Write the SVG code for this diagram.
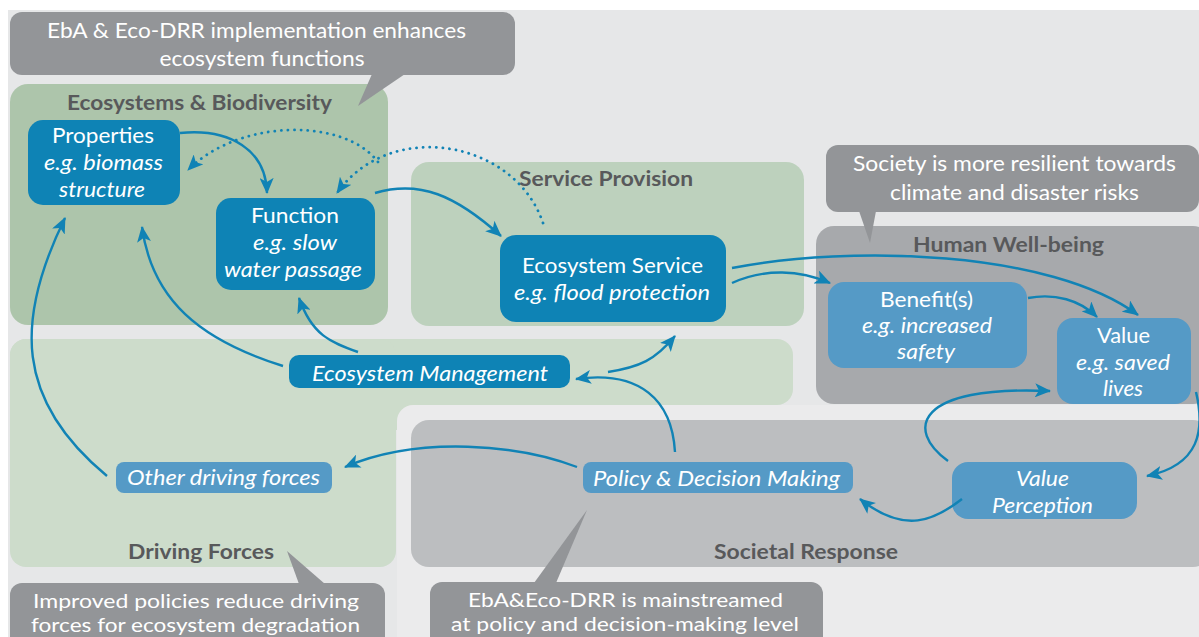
<svg xmlns="http://www.w3.org/2000/svg" width="1199" height="637" viewBox="0 0 1199 637">
<style>
text{font-family:Lato,"Open Sans","Liberation Sans",sans-serif}
.title{font-size:21px;font-weight:bold;fill:#58595b;text-anchor:middle}
.call{font-size:22px;fill:#fff;text-anchor:middle}
.callb{font-size:19.5px;fill:#fff;text-anchor:middle}
.nt{font-size:21.5px;fill:#fff;text-anchor:middle}
.it{font-style:italic}
.conn{fill:none;stroke:#1183b5;stroke-width:2.4}
.dot{fill:none;stroke:#1183b5;stroke-width:2.8;stroke-dasharray:0.1 6.5;stroke-linecap:round}
.dark{fill:#0e83b5}
.light{fill:#559ac6}
.callbox{fill:#939598}
</style>
<defs>
<marker id="ah" markerUnits="userSpaceOnUse" markerWidth="16" markerHeight="14" viewBox="0 0 16 14" refX="15" refY="7" orient="auto">
<path d="M0,0 L16,7 L0,14 L4,7 Z" fill="#1183b5"/>
</marker>
</defs>
<rect x="0" y="0" width="1199" height="637" fill="#ffffff"/>
<rect x="8" y="10" width="1191" height="627" fill="#e6e7e8"/>

<g id="areas">
<rect x="10" y="84" width="378" height="241" rx="18" fill="#adc5ab"/>
<rect x="411" y="162" width="393" height="164" rx="18" fill="#bdd1bd"/>
<rect x="816" y="226" width="395" height="178" rx="18" fill="#a7a9ac"/>
<rect x="10" y="339" width="783" height="66" rx="16" fill="#cddccb"/>
<rect x="10" y="339" width="386" height="228" rx="16" fill="#cddccb"/>
<rect x="370" y="380" width="50" height="50" fill="#cddccb"/>
<rect x="397" y="405" width="820" height="250" rx="16" fill="#ebebec"/>
<rect x="411" y="420" width="800" height="147" rx="18" fill="#bcbec0"/>
<text class="title" x="199.5" y="110" textLength="265" lengthAdjust="spacingAndGlyphs">Ecosystems &amp; Biodiversity</text>
<text class="title" x="606" y="186" textLength="174" lengthAdjust="spacingAndGlyphs">Service Provision</text>
<text class="title" x="1008.5" y="252" textLength="191" lengthAdjust="spacingAndGlyphs">Human Well-being</text>
<text class="title" x="201" y="559" textLength="146" lengthAdjust="spacingAndGlyphs">Driving Forces</text>
<text class="title" x="806" y="559" textLength="184" lengthAdjust="spacingAndGlyphs">Societal Response</text>
</g>

<g id="callout-eba">
<rect class="callbox" x="10" y="12" width="505" height="63" rx="12"/>
<polygon class="callbox" points="372,74 405,74 358,106"/>
<text class="call" x="256.5" y="38" textLength="419" lengthAdjust="spacingAndGlyphs">EbA &amp; Eco-DRR implementation enhances</text>
<text class="call" x="262" y="66" textLength="205" lengthAdjust="spacingAndGlyphs">ecosystem functions</text>
</g>
<g id="callout-society">
<rect class="callbox" x="826" y="145" width="373" height="67" rx="12"/>
<polygon class="callbox" points="859,211 876,211 870,243"/>
<text class="call" x="1014.5" y="171" textLength="323" lengthAdjust="spacingAndGlyphs">Society is more resilient towards</text>
<text class="call" x="1014.5" y="200" textLength="249" lengthAdjust="spacingAndGlyphs">climate and disaster risks</text>
</g>
<g id="callout-policies">
<rect class="callbox" x="10" y="583" width="375" height="70" rx="12"/>
<polygon class="callbox" points="287,551 299,584 325,584"/>
<text class="callb" x="196" y="608" textLength="326" lengthAdjust="spacingAndGlyphs">Improved policies reduce driving</text>
<text class="callb" x="195.5" y="632" textLength="329" lengthAdjust="spacingAndGlyphs">forces for ecosystem degradation</text>
</g>
<g id="callout-mainstream">
<rect class="callbox" x="430" y="582" width="393" height="70" rx="12"/>
<polygon class="callbox" points="587,510 534,583 556,583"/>
<text class="callb" x="625.5" y="607" textLength="315" lengthAdjust="spacingAndGlyphs">EbA&amp;Eco-DRR is mainstreamed</text>
<text class="callb" x="625" y="631" textLength="348" lengthAdjust="spacingAndGlyphs">at policy and decision-making level</text>
</g>

<g id="node-properties">
<rect class="dark" x="28" y="120" width="152" height="85" rx="15"/>
<text class="nt" x="103" y="143" textLength="102" lengthAdjust="spacingAndGlyphs">Properties</text>
<text class="nt it" x="103.5" y="170" textLength="119" lengthAdjust="spacingAndGlyphs">e.g. biomass</text>
<text class="nt it" x="102" y="197" textLength="86" lengthAdjust="spacingAndGlyphs">structure</text>
</g>
<g id="node-function">
<rect class="dark" x="216" y="198" width="159" height="92" rx="15"/>
<text class="nt" x="295" y="223" textLength="88" lengthAdjust="spacingAndGlyphs">Function</text>
<text class="nt it" x="295" y="250" textLength="84" lengthAdjust="spacingAndGlyphs">e.g. slow</text>
<text class="nt it" x="293" y="277" textLength="138" lengthAdjust="spacingAndGlyphs">water passage</text>
</g>
<g id="node-service">
<rect class="dark" x="500" y="235" width="226" height="87" rx="16"/>
<text class="nt" x="612.5" y="273" textLength="181" lengthAdjust="spacingAndGlyphs">Ecosystem Service</text>
<text class="nt it" x="612" y="300" textLength="196" lengthAdjust="spacingAndGlyphs">e.g. flood protection</text>
</g>
<g id="node-management">
<rect class="dark" x="289" y="355" width="281" height="33" rx="10"/>
<text class="nt it" x="430" y="381" textLength="236" lengthAdjust="spacingAndGlyphs">Ecosystem Management</text>
</g>
<g id="node-benefit">
<rect class="light" x="828" y="282" width="199" height="86" rx="16"/>
<text class="nt" x="926.5" y="307" textLength="93" lengthAdjust="spacingAndGlyphs">Benefit(s)</text>
<text class="nt it" x="927" y="333" textLength="130" lengthAdjust="spacingAndGlyphs">e.g. increased</text>
<text class="nt it" x="926" y="359" textLength="58" lengthAdjust="spacingAndGlyphs">safety</text>
</g>
<g id="node-value">
<rect class="light" x="1057" y="318" width="134" height="86" rx="16"/>
<text class="nt" x="1123.5" y="343" textLength="53" lengthAdjust="spacingAndGlyphs">Value</text>
<text class="nt it" x="1123" y="370" textLength="94" lengthAdjust="spacingAndGlyphs">e.g. saved</text>
<text class="nt it" x="1123" y="396" textLength="40" lengthAdjust="spacingAndGlyphs">lives</text>
</g>
<g id="node-perception">
<rect class="light" x="952" y="462" width="185" height="57" rx="16"/>
<text class="nt it" x="1042.5" y="486" textLength="53" lengthAdjust="spacingAndGlyphs">Value</text>
<text class="nt it" x="1042.5" y="513" textLength="101" lengthAdjust="spacingAndGlyphs">Perception</text>
</g>
<g id="node-policy">
<rect class="light" x="583" y="462" width="270" height="31" rx="8"/>
<text class="nt it" x="716.5" y="486" textLength="247" lengthAdjust="spacingAndGlyphs">Policy &amp; Decision Making</text>
</g>
<g id="node-other">
<rect class="light" x="116" y="462" width="216" height="31" rx="8"/>
<text class="nt it" x="223.5" y="485" textLength="193" lengthAdjust="spacingAndGlyphs">Other driving forces</text>
</g>

<g id="connectors">
<path class="conn" marker-end="url(#ah)" d="M180,133 C230,128 266,150 267,193"/>
<path class="dot" marker-end="url(#ah)" d="M543,223 C515,140 390,118 337,193"/>
<path class="dot" marker-end="url(#ah)" d="M378,162 C345,118 240,118 188,170"/>
<path class="conn" marker-end="url(#ah)" d="M375,193 C420,180 455,195 501,236"/>
<path class="conn" marker-end="url(#ah)" d="M732,268 C850,245 1050,250 1138,315"/>
<path class="conn" marker-end="url(#ah)" d="M732,283 C765,268 800,270 830,283"/>
<path class="conn" marker-end="url(#ah)" d="M1028,298 C1055,293 1080,300 1097,317"/>
<path class="conn" marker-end="url(#ah)" d="M1196,392 C1205,430 1200,465 1147,476"/>
<path class="conn" marker-end="url(#ah)" d="M948,461 C905,430 915,385 1050,391"/>
<path class="conn" marker-end="url(#ah)" d="M962,499 C935,520 905,535 860,499"/>
<path class="conn" marker-end="url(#ah)" d="M675,452 C672,400 640,370 576,379"/>
<path class="conn" marker-end="url(#ah)" d="M608,372 C640,367 655,360 675,336"/>
<path class="conn" marker-end="url(#ah)" d="M358,352 C330,342 312,335 299,298"/>
<path class="conn" marker-end="url(#ah)" d="M283,366 C200,340 152,300 142,227"/>
<path class="conn" marker-end="url(#ah)" d="M107,476 C15,400 15,320 65,218"/>
<path class="conn" marker-end="url(#ah)" d="M577,467 C520,445 420,435 345,467"/>
</g>
</svg>
